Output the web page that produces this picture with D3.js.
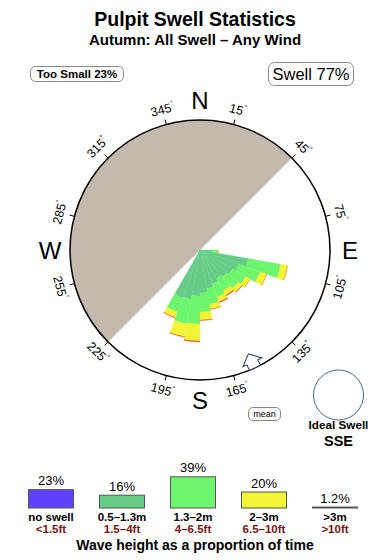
<!DOCTYPE html>
<html><head><meta charset="utf-8">
<script src="https://cdn.jsdelivr.net/npm/d3@7"></script>
<style>
body{margin:0;background:#fff}
svg{display:block}
text{font-family:"Liberation Sans",Arial,Helvetica,sans-serif}
</style>
</head><body>
<svg id="chart" width="390" height="560"></svg>
<script>
// ---------------- data ----------------
const titleText = "Pulpit Swell Statistics";
const subtitleText = "Autumn: All Swell – Any Wind";
const tooSmallText = "Too Small 23%";
const swellText = "Swell 77%";

// swell direction bins (centre of 10° sector, compass degrees)
const directions = [95, 105, 115, 125, 135, 145, 155, 165, 175, 185, 195, 205];
const sectorWidth = 10;
// proportion of time (stacked) per height band, per direction
const band05to13 = [1.2, 4.9, 4.1, 3.8, 3.5, 3.3, 3.6, 3.9, 4.3, 4.6, 5.0, 5.1];
const band13to2  = [0.6, 3.3, 2.3, 1.5, 1.5, 1.4, 1.4, 1.6, 1.9, 2.8, 2.5, 1.5];
const band2to3   = [0.0, 0.7, 0.7, 0.5, 0.5, 0.5, 0.5, 0.5, 0.8, 1.7, 1.3, 0.6];
const bandOver3  = [0.0, 0.0, 0.0, 0.0, 0.05, 0.1, 0.1, 0.05, 0.05, 0.1, 0.05, 0.05];
const roseColors = ["#66cc88", "#6ef56e", "#f2f535", "#f05a28"];

const degreeTicks = [15, 45, 75, 105, 135, 165, 195, 225, 255, 285, 315, 345];
const cardinalNames = ["N", "E", "S", "W"];
const cardinalAngles = [0, 90, 180, 270];

// sheltered (too small) half of the compass
const shadowStart = 225, shadowEnd = 405;
const meanDirection = 155;
const idealSwell = "SSE";

// legend
const legendLabels = ["no swell", "0.5–1.3m", "1.3–2m", "2–3m", ">3m"];
const legendFeet = ["<1.5ft", "1.5–4ft", "4–6.5ft", "6.5–10ft", ">10ft"];
const legendPct = [23, 16, 39, 20, 1.2];
const legendPctText = ["23%", "16%", "39%", "20%", "1.2%"];
const legendColors = ["#6040ff", "#66cc88", "#6ef56e", "#f2f535", "#f05a28"];
const footerText = "Wave height as a proportion of time";

// ---------------- drawing ----------------
const svg = d3.select("#chart");
const W = 390, H = 560;
svg.append("rect").attr("width", W).attr("height", H).attr("fill", "#fff");

svg.append("text").attr("x", 195).attr("y", 25.5).attr("text-anchor", "middle")
  .attr("font-size", 19.5).attr("font-weight", "bold").text(titleText);
svg.append("text").attr("x", 195).attr("y", 44.5).attr("text-anchor", "middle")
  .attr("font-size", 15).attr("font-weight", "bold").text(subtitleText);

// badges
function badge(x, y, w, h, rx, txt, size, weight) {
  svg.append("rect").attr("x", x).attr("y", y).attr("width", w).attr("height", h)
    .attr("rx", rx).attr("fill", "#fff").attr("stroke", "#888").attr("stroke-width", 1);
  svg.append("text").attr("x", x + w / 2).attr("y", y + h / 2).attr("text-anchor", "middle")
    .attr("dominant-baseline", "central").attr("font-size", size).attr("font-weight", weight).text(txt);
}
badge(30.5, 66.5, 93, 15, 5, tooSmallText, 11.5, "bold");
badge(268.5, 62.5, 85, 23, 6, swellText, 16.5, "normal");

// compass
const cx = 200, cy = 250, R = 130;
const g = svg.append("g").attr("transform", `translate(${cx},${cy})`);
const rad = d => d * Math.PI / 180;
const polar = (deg, r) => [r * Math.sin(rad(deg)), -r * Math.cos(rad(deg))];

g.append("path")
  .attr("d", d3.arc()({innerRadius: 0, outerRadius: R, startAngle: rad(shadowStart), endAngle: rad(shadowEnd)}))
  .attr("fill", "#c4b9ad");

// rose
const rScale = d3.scaleLinear().domain([0, 10]).range([0, 100]);
const stackRows = directions.map((d, i) => ({dir: d, b0: band05to13[i], b1: band13to2[i], b2: band2to3[i], b3: bandOver3[i]}));
const stacked = d3.stack().keys(["b0", "b1", "b2", "b3"])(stackRows);
const arc = d3.arc();
stacked.forEach((layer, li) => {
  g.append("g").selectAll("path").data(layer).join("path")
    .attr("d", s => arc({
      innerRadius: rScale(s[0]), outerRadius: rScale(s[1]),
      startAngle: rad(s.data.dir - sectorWidth / 2), endAngle: rad(s.data.dir + sectorWidth / 2)
    }))
    .attr("fill", roseColors[li])
    .attr("stroke", roseColors[li]).attr("stroke-width", 0.3);
});

// compass circle
g.append("circle").attr("r", R).attr("fill", "none").attr("stroke", "#000").attr("stroke-width", 1.5);

// ticks + degree labels
degreeTicks.forEach(a => {
  const [x1, y1] = polar(a, R), [x2, y2] = polar(a, R + 5);
  g.append("line").attr("x1", x1).attr("y1", y1).attr("x2", x2).attr("y2", y2)
    .attr("stroke", "#000").attr("stroke-width", 1);
  const [tx, ty] = polar(a, 145);
  const rot = (a > 90 && a < 270) ? a - 180 : a;
  const t = g.append("text").attr("transform", `translate(${tx},${ty}) rotate(${rot})`)
    .attr("text-anchor", "middle").attr("dominant-baseline", "central")
    .attr("font-size", 12.5);
  t.append("tspan").text(a);
  t.append("tspan").attr("font-size", 7).attr("dy", -5).text("°");
});

// cardinal letters
cardinalNames.forEach((n, i) => {
  const [x, y] = polar(cardinalAngles[i], 150);
  g.append("text").attr("x", x).attr("y", y).attr("text-anchor", "middle")
    .attr("dominant-baseline", "central").attr("font-size", 24).text(n);
});

// mean direction arrow (inside circle, pointing inward)
const [mx, my] = polar(meanDirection, R);
g.append("path").attr("transform", `translate(${mx},${my}) rotate(${meanDirection})`)
  .attr("d", "M-6,0 L-6,6 L-10.5,6 L0,15.5 L10.5,6 L6,6 L6,0 Z")
  .attr("fill", "#fff").attr("stroke", "#2a3a5a").attr("stroke-width", 1);

badge(248.5, 407.5, 32, 13, 4.5, "mean", 9, "normal");

// ideal swell
svg.append("circle").attr("cx", 338.5).attr("cy", 395).attr("r", 25)
  .attr("fill", "#fff").attr("stroke", "#4a6688").attr("stroke-width", 1);
svg.append("text").attr("x", 338.5).attr("y", 429).attr("text-anchor", "middle")
  .attr("font-size", 11.7).attr("font-weight", "bold").text("Ideal Swell");
svg.append("text").attr("x", 338.5).attr("y", 446).attr("text-anchor", "middle")
  .attr("font-size", 14.5).attr("font-weight", "bold").text(idealSwell);

// legend
const lx = d3.scalePoint().domain(legendLabels).range([51, 335]);
const lh = d3.scaleLinear().domain([0, 40]).range([0, 32]);
const baseY = 508, barW = 45;
const lg = svg.append("g");
lg.selectAll("rect").data(legendLabels).join("rect")
  .attr("x", d => lx(d) - barW / 2)
  .attr("y", (d, i) => baseY - lh(legendPct[i]))
  .attr("width", barW)
  .attr("height", (d, i) => lh(legendPct[i]))
  .attr("fill", (d, i) => legendColors[i])
  .attr("stroke", "#555").attr("stroke-width", 1);
lg.selectAll("text.pct").data(legendLabels).join("text").attr("class", "pct")
  .attr("x", d => lx(d)).attr("y", (d, i) => baseY - lh(legendPct[i]) - 4.5)
  .attr("text-anchor", "middle").attr("font-size", 13).text((d, i) => legendPctText[i]);
lg.selectAll("text.lab").data(legendLabels).join("text").attr("class", "lab")
  .attr("x", d => lx(d)).attr("y", 521)
  .attr("text-anchor", "middle").attr("font-size", 11.5).attr("font-weight", "bold").text(d => d);
lg.selectAll("text.ft").data(legendLabels).join("text").attr("class", "ft")
  .attr("x", d => lx(d)).attr("y", 533)
  .attr("text-anchor", "middle").attr("font-size", 11.5).attr("font-weight", "bold")
  .attr("fill", "#7a1414").text((d, i) => legendFeet[i]);
svg.append("text").attr("x", 195).attr("y", 549.5).attr("text-anchor", "middle")
  .attr("font-size", 14).attr("font-weight", "bold").text(footerText);
</script>
</body></html>
